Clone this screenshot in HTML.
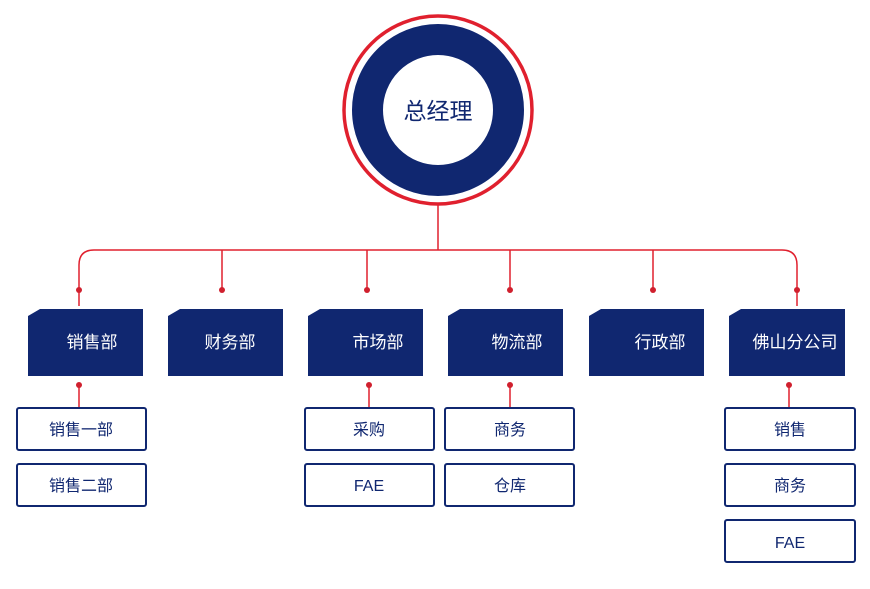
<!DOCTYPE html>
<html><head><meta charset="utf-8"><style>
html,body{margin:0;padding:0;background:#fff;}
text{font-family:"Liberation Sans","Noto Sans CJK SC",sans-serif;}
</style></head><body>
<svg width="870" height="584" viewBox="0 0 870 584" xmlns="http://www.w3.org/2000/svg">
<circle cx="438" cy="110" r="94" fill="#fff" stroke="#e0202e" stroke-width="3.5"/>
<circle cx="438" cy="110" r="70.5" fill="none" stroke="#102770" stroke-width="31"/>
<text x="438" y="119" text-anchor="middle" font-size="23" fill="#102770">总经理</text>
<g stroke="#e0202e" stroke-width="1.5" fill="none">
<line x1="438" y1="204" x2="438" y2="250"/>
<path d="M79 306 V265 Q79 250 94 250 H782 Q797 250 797 265 V306"/>
<line x1="222" y1="250" x2="222" y2="290"/>
<line x1="367" y1="250" x2="367" y2="290"/>
<line x1="510" y1="250" x2="510" y2="290"/>
<line x1="653" y1="250" x2="653" y2="290"/>
<line x1="79" y1="385" x2="79" y2="407"/>
<line x1="369" y1="385" x2="369" y2="407"/>
<line x1="510" y1="385" x2="510" y2="407"/>
<line x1="789" y1="385" x2="789" y2="407"/>
</g>
<g fill="#d0202e">
<circle cx="79" cy="290" r="3"/><circle cx="222" cy="290" r="3"/><circle cx="367" cy="290" r="3"/>
<circle cx="510" cy="290" r="3"/><circle cx="653" cy="290" r="3"/><circle cx="797" cy="290" r="3"/>
<circle cx="79" cy="385" r="3"/><circle cx="369" cy="385" r="3"/><circle cx="510" cy="385" r="3"/><circle cx="789" cy="385" r="3"/>
</g>
<g fill="#102770">
<path d="M28 316 L40 309 H143 V376 H28 Z"/>
<path d="M168 316 L180 309 H283 V376 H168 Z"/>
<path d="M308 316 L320 309 H423 V376 H308 Z"/>
<path d="M448 316 L460 309 H563 V376 H448 Z"/>
<path d="M589 316 L601 309 H704 V376 H589 Z"/>
<path d="M729 316 L741 309 H845 V376 H729 Z"/>
</g>
<g fill="#fff" font-size="17" text-anchor="middle">
<text x="92" y="348">销售部</text>
<text x="230" y="348">财务部</text>
<text x="378" y="348">市场部</text>
<text x="517" y="348">物流部</text>
<text x="660" y="348">行政部</text>
<text x="795" y="348">佛山分公司</text>
</g>
<g fill="#fff" stroke="#102770" stroke-width="2">
<rect x="17" y="408" width="129" height="42" rx="2"/>
<rect x="17" y="464" width="129" height="42" rx="2"/>
<rect x="305" y="408" width="129" height="42" rx="2"/>
<rect x="305" y="464" width="129" height="42" rx="2"/>
<rect x="445" y="408" width="129" height="42" rx="2"/>
<rect x="445" y="464" width="129" height="42" rx="2"/>
<rect x="725" y="408" width="130" height="42" rx="2"/>
<rect x="725" y="464" width="130" height="42" rx="2"/>
<rect x="725" y="520" width="130" height="42" rx="2"/>
</g>
<g fill="#102770" font-size="16" text-anchor="middle">
<text x="81" y="435">销售一部</text>
<text x="81" y="491">销售二部</text>
<text x="369" y="435">采购</text>
<text x="369" y="491">FAE</text>
<text x="510" y="435">商务</text>
<text x="510" y="491">仓库</text>
<text x="790" y="435">销售</text>
<text x="790" y="491">商务</text>
<text x="790" y="548">FAE</text>
</g>
</svg>
</body></html>
